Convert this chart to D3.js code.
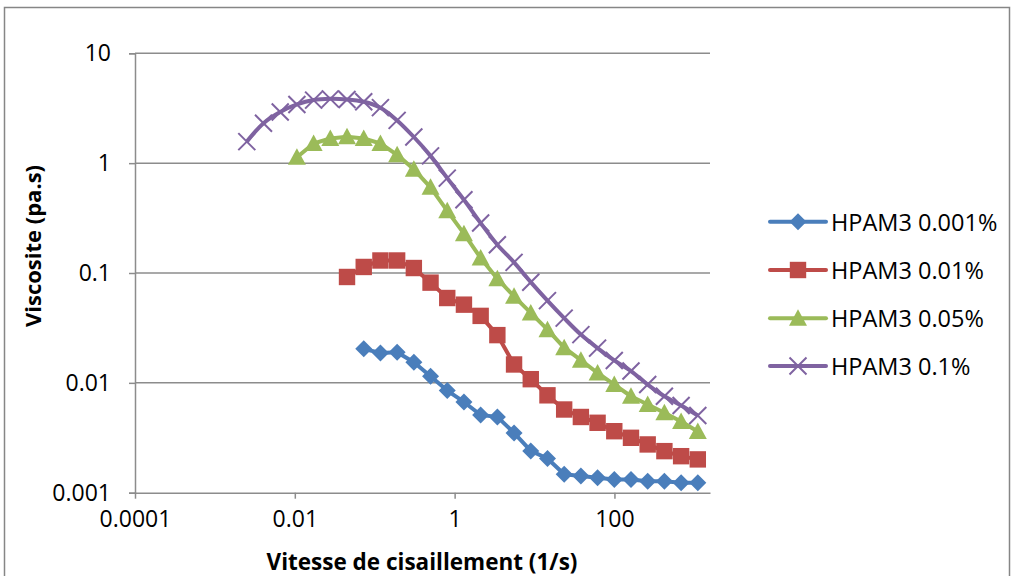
<!DOCTYPE html>
<html>
<head>
<meta charset="utf-8">
<script src="https://cdn.jsdelivr.net/npm/d3@7"></script>
<style>
  html, body { margin: 0; padding: 0; background: #fff; }
  svg { display: block; }
  text { font-family: "Open Sans", "Liberation Sans", sans-serif; fill: #000; }
</style>
</head>
<body>
<svg id="chart" width="1013" height="576"></svg>
<script>
// ---- data ----
const shearRate = [0.002507, 0.004057, 0.006567, 0.01062, 0.01719, 0.02782, 0.04501, 0.07286,
  0.1179, 0.1908, 0.3088, 0.4996, 0.8085, 1.308, 2.117, 3.426, 5.543, 8.973, 14.52, 23.49,
  38.02, 61.52, 99.56, 161.1, 260.7, 421.9, 682.8, 1105];

const hpam0001 = [null, null, null, null, null, null, null,
  0.0204, 0.0187, 0.0190, 0.0154, 0.0115, 0.0085, 0.0067, 0.0051, 0.0049, 0.0035, 0.0024,
  0.00205, 0.00147, 0.00142, 0.00137, 0.00132, 0.00132, 0.00127, 0.00127, 0.00123, 0.00123];

const hpam001 = [null, null, null, null, null, null,
  0.092, 0.1135, 0.130, 0.130, 0.111, 0.0817, 0.0592, 0.0515, 0.0407, 0.0272, 0.0147,
  0.0108, 0.0077, 0.00572, 0.00489, 0.00433, 0.00363, 0.00316, 0.00275, 0.00239, 0.00215, 0.00201];

const hpam005 = [null, null, null,
  1.13, 1.51, 1.68, 1.74, 1.68, 1.51, 1.19, 0.878, 0.603, 0.368, 0.228, 0.137, 0.0887,
  0.0613, 0.0433, 0.0305, 0.0209, 0.0161, 0.0123, 0.00965, 0.00755, 0.00635, 0.00534, 0.00445, 0.00361];

const hpam01 = [1.57, 2.31, 2.92, 3.42, 3.75, 3.85, 3.80, 3.62, 3.20, 2.45, 1.73, 1.165,
  0.731, 0.464, 0.285, 0.181, 0.125, 0.0825, 0.056, 0.0388, 0.0275, 0.0207, 0.016,
  0.0128, 0.00965, 0.00755, 0.00622, 0.00504];

const seriesNames = ["HPAM3 0.001%", "HPAM3 0.01%", "HPAM3 0.05%", "HPAM3 0.1%"];
const xTickValues = [0.0001, 0.01, 1, 100];
const xTickLabels = ["0.0001", "0.01", "1", "100"];
const yTickValues = [0.001, 0.01, 0.1, 1, 10];
const yTickLabels = ["0.001", "0.01", "0.1", "1", "10"];
const xDomain = [0.0001, 1570];
const yDomain = [0.001, 10];

// ---- layout / style ----
const colors = ["#4A7EBB", "#BE4B48", "#9BBB59", "#7F63A1"];
const markers = ["diamond", "square", "triangle", "cross"];
const smooth = [false, false, false, true];
const seriesData = [hpam0001, hpam001, hpam005, hpam01];

const plot = { left: 135, right: 710, top: 53.3, bottom: 492.7 };
const svg = d3.select("#chart");

// chart border
svg.append("rect").attr("x", 4.5).attr("y", 7.5).attr("width", 1005).attr("height", 600)
  .attr("fill", "none").attr("stroke", "#868686").attr("stroke-width", 1.5);

const x = d3.scaleLog().domain(xDomain).range([plot.left, plot.right]);
const y = d3.scaleLog().domain(yDomain).range([plot.bottom, plot.top]);

// gridlines
svg.append("g").selectAll("line").data(yTickValues.slice(1)).join("line")
  .attr("x1", plot.left).attr("x2", plot.right)
  .attr("y1", d => y(d)).attr("y2", d => y(d))
  .attr("stroke", "#8C8C8C").attr("stroke-width", 1.5);

// y axis
const yAxis = d3.axisLeft(y).tickValues(yTickValues)
  .tickFormat((d, i) => yTickLabels[i]).tickSize(6).tickPadding(18);
const gy = svg.append("g").attr("transform", `translate(${plot.left},0)`).call(yAxis);
gy.select(".domain").attr("stroke", "#8C8C8C").attr("stroke-width", 1.5);
gy.selectAll(".tick line").attr("stroke", "#8C8C8C").attr("stroke-width", 1.5);
gy.selectAll(".tick text").style("font-size", "23px").attr("fill", "#000")
  .style("font-family", "'Open Sans', sans-serif");

// x axis
const xAxis = d3.axisBottom(x).tickValues(xTickValues)
  .tickFormat((d, i) => xTickLabels[i]).tickSize(6).tickSizeOuter(0).tickPadding(12);
const gx = svg.append("g").attr("transform", `translate(0,${plot.bottom})`).call(xAxis);
gx.select(".domain").attr("stroke", "#8C8C8C").attr("stroke-width", 1.5);
gx.selectAll(".tick line").attr("stroke", "#8C8C8C").attr("stroke-width", 1.5);
gx.selectAll(".tick text").style("font-size", "23px").attr("fill", "#000")
  .style("font-family", "'Open Sans', sans-serif");

// axis titles
svg.append("text").attr("x", 422).attr("y", 561).attr("text-anchor", "middle")
  .attr("dominant-baseline", "central")
  .style("font-size", "22.5px").style("font-weight", "bold")
  .text("Vitesse de cisaillement (1/s)");
svg.append("text").attr("transform", "translate(32,246) rotate(-90)")
  .attr("text-anchor", "middle").attr("dominant-baseline", "central")
  .style("font-size", "22px").style("font-weight", "bold")
  .text("Viscosite (pa.s)");

// marker drawing
function drawMarker(g, type, color) {
  if (type === "diamond") {
    g.append("path").attr("d", "M0,-8.5L8.5,0L0,8.5L-8.5,0Z").attr("fill", color);
  } else if (type === "square") {
    g.append("rect").attr("x", -8.2).attr("y", -8.2).attr("width", 16.4).attr("height", 16.4).attr("fill", color);
  } else if (type === "triangle") {
    g.append("path").attr("d", "M0,-9L9,7.5L-9,7.5Z").attr("fill", color);
  } else {
    g.append("path").attr("d", "M-8.5,-8.5L8.5,8.5M-8.5,8.5L8.5,-8.5")
      .attr("stroke", color).attr("stroke-width", 2).attr("fill", "none");
  }
}

// series
seriesData.forEach((vals, si) => {
  const pts = shearRate.map((sr, i) => ({ x: sr, y: vals[i] })).filter(p => p.y != null);
  const line = d3.line().x(p => x(p.x)).y(p => y(p.y))
    .curve(smooth[si] ? d3.curveCatmullRom.alpha(0.5) : d3.curveLinear);
  const g = svg.append("g");
  g.append("path").datum(pts).attr("d", line).attr("fill", "none")
    .attr("stroke", colors[si]).attr("stroke-width", 4).attr("stroke-linejoin", "round");
  pts.forEach(p => {
    const mg = g.append("g").attr("transform", `translate(${x(p.x)},${y(p.y)})`);
    drawMarker(mg, markers[si], colors[si]);
  });
});

// legend
const legendY = [221.7, 270, 318.3, 366];
seriesNames.forEach((name, i) => {
  const lg = svg.append("g").attr("transform", `translate(0,${legendY[i]})`);
  lg.append("line").attr("x1", 770).attr("x2", 826).attr("y1", 0).attr("y2", 0)
    .attr("stroke", colors[i]).attr("stroke-width", 4).attr("stroke-linecap", "round");
  const mg = lg.append("g").attr("transform", "translate(798,0)");
  drawMarker(mg, markers[i], colors[i]);
  lg.append("text").attr("x", 831).attr("y", 0).attr("dominant-baseline", "central")
    .style("font-size", "23.5px").text(name);
});
</script>
</body>
</html>
